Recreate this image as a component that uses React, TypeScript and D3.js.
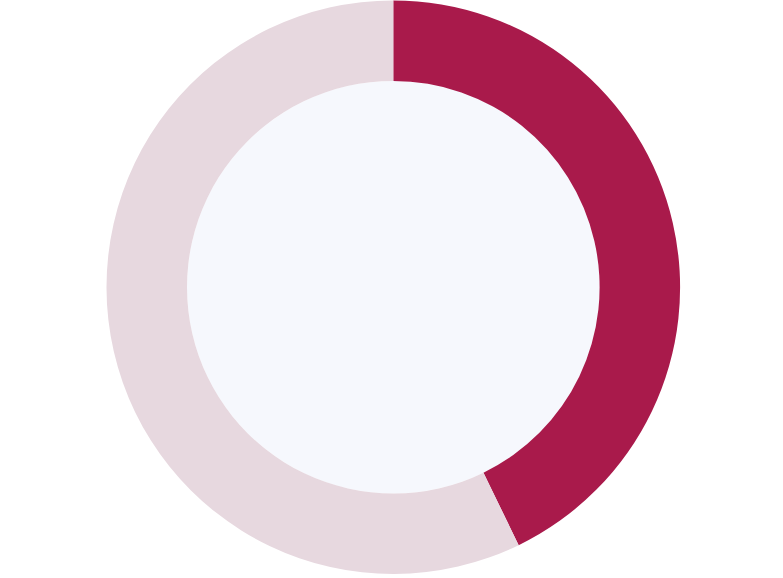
import * as d3 from "d3"
import { useEffect, useRef } from "react"

const labels = ["Value", "Remaining"]
const values = [42.8, 57.2]
const colors = ["#a91a4b", "#e7d8df"]

const WIDTH = 783
const HEIGHT = 578
const CENTER = { x: 393.3, y: 287.2 }
const OUTER = 286.8
const INNER = 206.3

const App = () => {
  const svgRef = useRef<SVGSVGElement>(null)

  useEffect(() => {
    if (!svgRef.current) return
    const svg = d3.select(svgRef.current)
    svg.selectAll("*").remove()

    const g = svg
      .append("g")
      .attr("transform", `translate(${CENTER.x}, ${CENTER.y})`)

    const pie = d3
      .pie<number>()
      .sort(null)
      .value((d) => d)

    const arc = d3
      .arc<d3.PieArcDatum<number>>()
      .innerRadius(INNER)
      .outerRadius(OUTER)

    // inner disc
    g.append("circle").attr("r", INNER).attr("fill", "#f6f8fd")

    g.selectAll("path")
      .data(pie(values))
      .join("path")
      .attr("d", arc)
      .attr("fill", (_, i) => colors[i])
      .append("title")
      .text((d, i) => `${labels[i]}: ${d.data}`)
  }, [])

  return (
    <svg
      ref={svgRef}
      width={WIDTH}
      height={HEIGHT}
      style={{ position: "absolute", left: 0, top: 0, display: "block" }}
    />
  )
}

export default App
